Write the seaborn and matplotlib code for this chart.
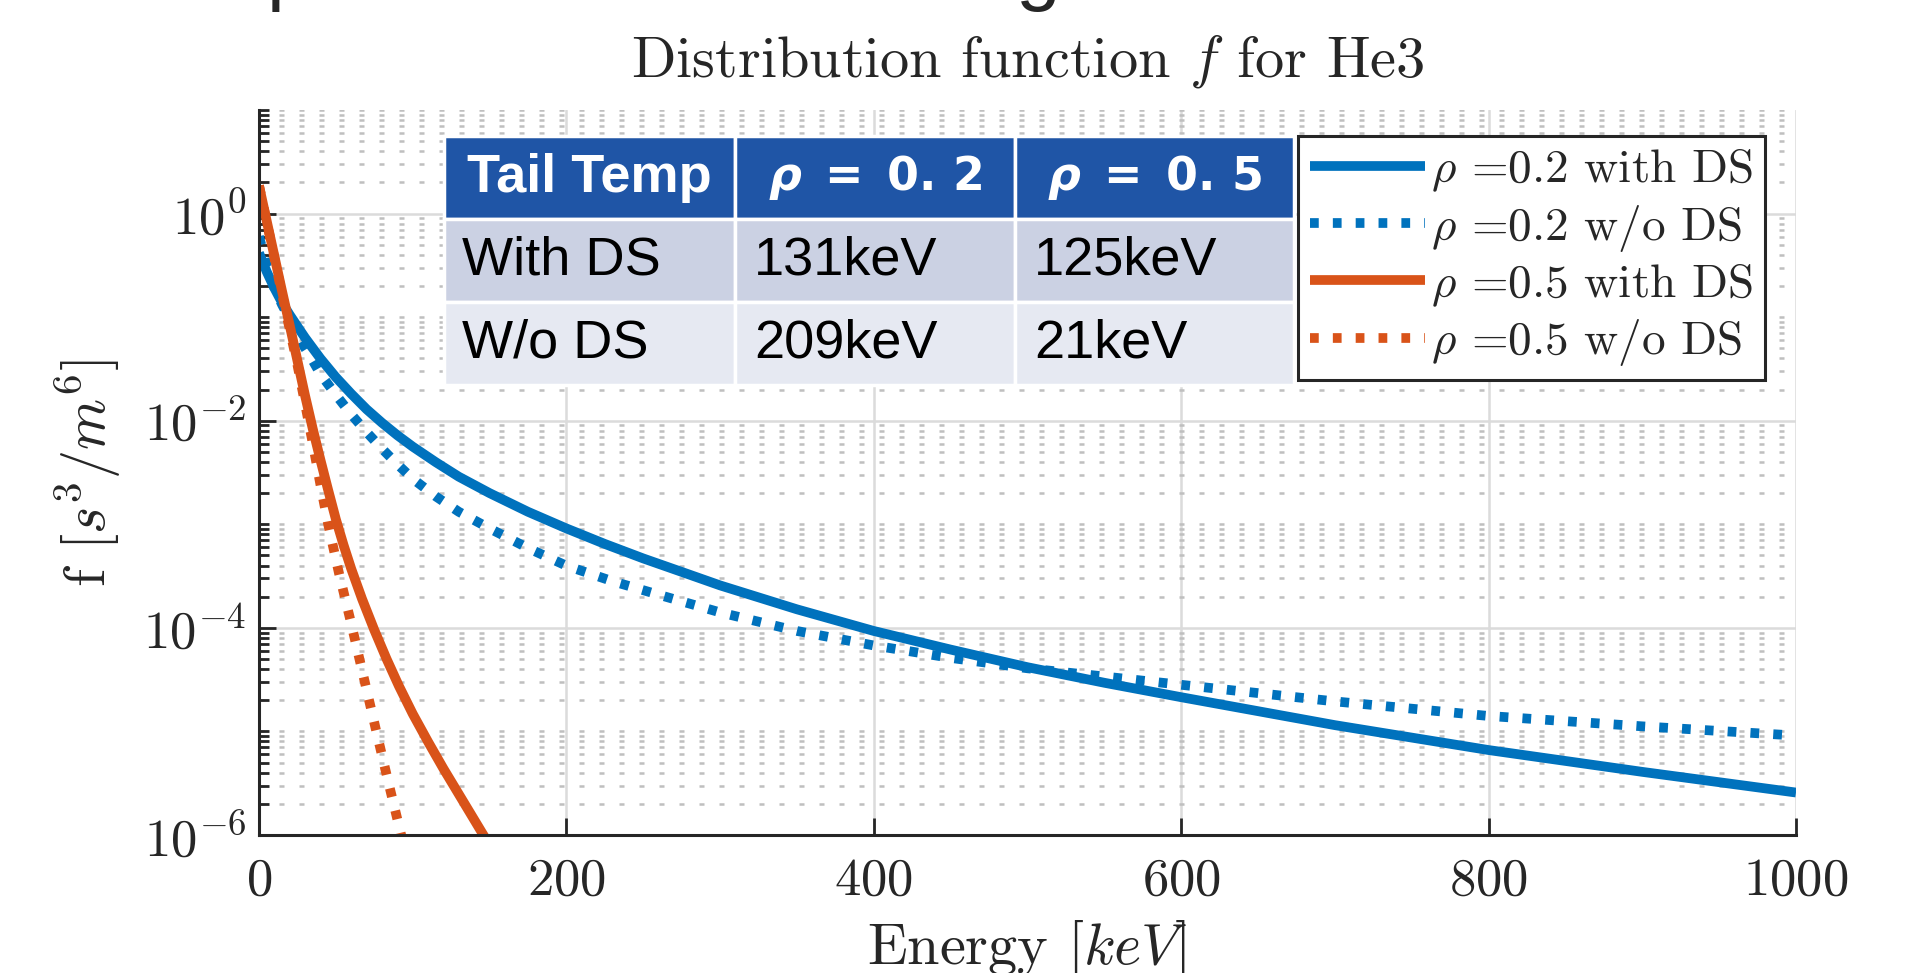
import matplotlib.pyplot as plt
import matplotlib.ticker as mticker
import numpy as np
import pandas as pd
import seaborn as sns

# values: energy [keV] and f [s^3/m^6]
e_02_ds = [0, 5, 10, 15, 20, 25, 30, 35, 40, 50, 60, 70, 80, 90, 100, 115, 130,
           150, 175, 200, 225, 250, 275, 300, 350, 400, 450, 500, 550, 600, 700,
           800, 900, 1000]
f_02_ds = [0.417, 0.275, 0.191, 0.138, 0.105, 0.0813, 0.0631, 0.0501, 0.0398,
           0.0263, 0.0182, 0.0129, 0.00955, 0.00724, 0.00562, 0.00398, 0.00288,
           0.00200, 0.00132, 9.12e-4, 6.46e-4, 4.68e-4, 3.47e-4, 2.57e-4,
           1.51e-4, 9.33e-5, 6.17e-5, 4.17e-5, 2.95e-5, 2.14e-5, 1.15e-5,
           6.61e-6, 4.07e-6, 2.57e-6]

e_02_wo = [0, 5, 10, 15, 20, 25, 30, 35, 40, 50, 60, 70, 80, 90, 100, 115, 130,
           150, 175, 200, 230, 260, 300, 350, 400, 450, 500, 550, 600, 700, 800,
           900, 1000]
f_02_wo = [0.603, 0.316, 0.191, 0.132, 0.0955, 0.0692, 0.0501, 0.0380, 0.0282,
           0.0178, 0.0115, 0.00776, 0.00537, 0.00380, 0.00275, 0.00186, 0.00132,
           9.12e-4, 5.89e-4, 3.98e-4, 2.82e-4, 2.09e-4, 1.41e-4, 9.33e-5,
           6.76e-5, 5.13e-5, 4.07e-5, 3.39e-5, 2.82e-5, 1.95e-5, 1.41e-5,
           1.12e-5, 9.12e-6]

e_05_ds = [0, 5, 10, 15, 20, 25, 30, 35, 40, 45, 50, 55, 60, 67, 75, 83, 91,
           100, 110, 120, 133, 146, 160]
f_05_ds = [1.86, 0.851, 0.389, 0.178, 0.0832, 0.0380, 0.0174, 0.00832, 0.00417,
           0.00214, 0.00112, 6.31e-4, 3.72e-4, 1.91e-4, 9.55e-5, 5.01e-5,
           2.75e-5, 1.48e-5, 7.94e-6, 4.37e-6, 2.09e-6, 1.0e-6, 4.68e-7]

e_05_wo = [0, 5, 10, 15, 20, 25, 30, 35, 40, 45, 52, 60, 68, 76, 84, 92.5, 100]
f_05_wo = [1.86, 0.832, 0.372, 0.166, 0.0759, 0.0347, 0.0145, 0.00603, 0.00240,
           1.0e-3, 3.39e-4, 1.10e-4, 3.39e-5, 1.05e-5, 3.31e-6, 1.0e-6, 3.55e-7]

labels = [r"$\rho$ =0.2 with DS", r"$\rho$ =0.2 w/o DS",
          r"$\rho$ =0.5 with DS", r"$\rho$ =0.5 w/o DS"]
colors = ["#0072BD", "#0072BD", "#D95319", "#D95319"]
dashes = ["", (0.9, 1.45), "", (0.9, 1.45)]

table_header = ["Tail Temp",
                r"$\mathbfit{\rho}\ \mathbf{=\ 0.\,2}$",
                r"$\mathbfit{\rho}\ \mathbf{=\ 0.\,5}$"]
table_rows = [["With DS", "131keV", "125keV"],
              ["W/o DS", "209keV", "21keV"]]

parts = []
for lab, e, f in zip(labels, [e_02_ds, e_02_wo, e_05_ds, e_05_wo],
                     [f_02_ds, f_02_wo, f_05_ds, f_05_wo]):
    parts.append(pd.DataFrame({"energy": e, "f": f, "case": lab}))
df = pd.concat(parts, ignore_index=True)

sns.set_theme(style="white")
plt.rcParams["font.family"] = ["cmr10", "DejaVu Serif"]
plt.rcParams["mathtext.fontset"] = "cm"
plt.rcParams["axes.formatter.use_mathtext"] = True
plt.rcParams["axes.unicode_minus"] = False

W, H = 1933, 973
fig = plt.figure(figsize=(W / 100, H / 100), dpi=100)
ax = fig.add_axes([259 / W, 1 - 835 / H, 1537 / W, 725 / H])

sns.lineplot(data=df, x="energy", y="f", hue="case", style="case",
             palette=dict(zip(labels, colors)), dashes=dict(zip(labels, dashes)),
             hue_order=labels, style_order=labels, linewidth=7,
             estimator=None, sort=False, legend=False, ax=ax,
             solid_capstyle="butt", solid_joinstyle="round")

ax.set_yscale("log")
ax.set_xlim(0, 1000)
ax.set_ylim(1e-6, 1e1)
ax.set_xticks([0, 200, 400, 600, 800, 1000])
ax.yaxis.set_major_locator(mticker.LogLocator(base=100, numticks=20))
ax.yaxis.set_minor_locator(mticker.LogLocator(base=10, subs=np.arange(1, 10), numticks=100))
ax.yaxis.set_major_formatter(mticker.FuncFormatter(lambda v, p: r"$10^{%d}$" % round(np.log10(v))))
ax.yaxis.set_minor_formatter(mticker.NullFormatter())

ax.set_axisbelow(True)
ax.grid(which="major", color="0.86", lw=1.8, ls="-")
ax.grid(which="minor", axis="y", color="0.75", lw=1.8, ls=(0, (2, 6)))

for side in ["top", "right"]:
    ax.spines[side].set_visible(False)
for side in ["left", "bottom"]:
    ax.spines[side].set_color("0.15")
    ax.spines[side].set_linewidth(2.2)

ax.tick_params(which="both", direction="in", color="0.15", width=2,
               left=True, bottom=True, top=False, right=False)
ax.tick_params(which="major", length=12)
ax.tick_params(which="minor", length=7)
ax.tick_params(axis="x", labelsize=38, pad=16, labelcolor="0.15")
ax.tick_params(axis="y", labelsize=38, pad=9, labelcolor="0.15")

ax.set_title(r"Distribution function $f$ for He3", fontsize=42, pad=24)
ax.set_xlabel(r"Energy $[keV]$", fontsize=42, color="0.15")
ax.set_ylabel(r"f $[s^3/m^6]$", fontsize=42, color="0.15")
ax.xaxis.set_label_coords(0.5, -0.114)
ax.yaxis.set_label_coords(-0.0885, 0.5)

leg = ax.legend(handles=ax.get_lines()[:4], labels=labels, loc="upper right",
                bbox_to_anchor=(1765 / W, 1 - 136 / H), bbox_transform=fig.transFigure,
                borderaxespad=0, fontsize=34, handlelength=2.45, handletextpad=0.13,
                borderpad=0.25, labelspacing=0.18, fancybox=False, framealpha=1)
leg.get_frame().set_edgecolor("0.15")
leg.get_frame().set_linewidth(2.2)

# pasted table with tail temperatures
tax = fig.add_axes([444 / W, 1 - 385 / H, 850 / W, 249 / H])
tax.axis("off")
tab = tax.table(cellText=table_rows, colLabels=table_header, cellLoc="left",
                bbox=[0, 0, 1, 1], colWidths=[291 / 850, 280 / 850, 279 / 850])
tab.auto_set_font_size(False)
row_colors = ["#1F55A6", "#CBD1E3", "#E6E9F2"]
for (r, c), cell in tab.get_celld().items():
    cell.set_edgecolor("white")
    cell.set_linewidth(2.5)
    cell.set_facecolor(row_colors[r])
    txt = cell.get_text()
    txt.set_family(["Liberation Sans", "DejaVu Sans"])
    txt.set_fontsize(39)
    cell.PAD = 0.062 if c == 0 else 0.068
    if r == 0:
        txt.set_color("white")
        txt.set_fontweight("bold")
        if c > 0:
            txt.set_math_fontfamily("dejavusans")
            txt.set_fontsize(33)
    else:
        txt.set_color("black")

# slide heading above the figure, only its descenders are visible
fig.text(0.1381, 1.005, "p", fontsize=58, family="Liberation Sans", va="baseline")
fig.text(0.5256, 1.005, "g", fontsize=58, family="Liberation Sans", va="baseline")

fig.savefig("out.png", dpi=100)
